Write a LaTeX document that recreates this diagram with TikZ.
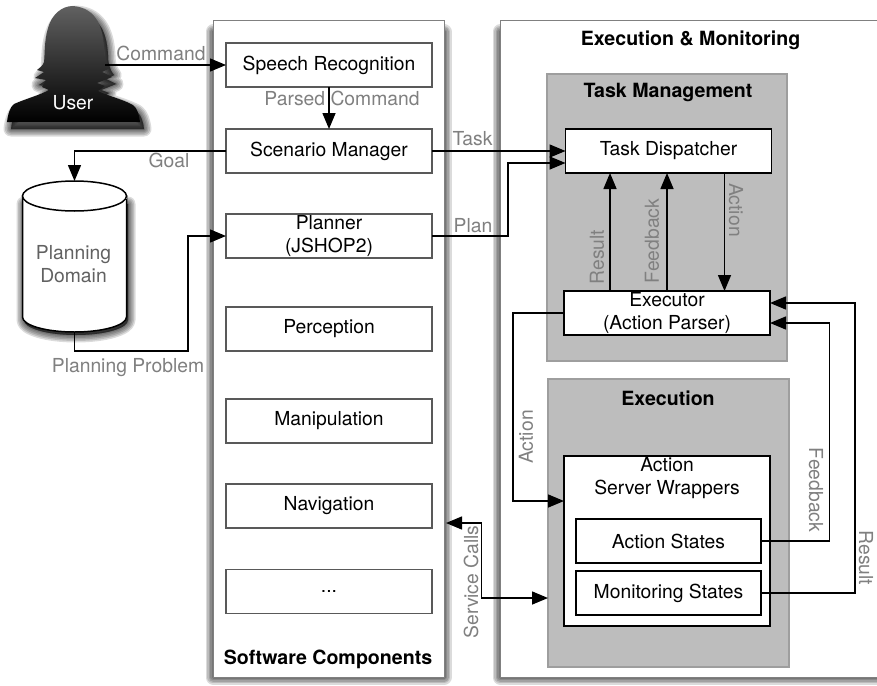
\documentclass[tikz,border=0pt]{standalone}
\usepackage{fontspec}
\setmainfont{TeX Gyre Heros}
\usetikzlibrary{arrows.meta}
\newcommand{\softshadow}[1]{%
  \foreach \w in {15,12,9,6,3,0.5}{%
    \fill[black,fill opacity=.14,draw=black,draw opacity=.14,line width=\w pt,line join=round] #1;}}
\tikzset{
  every node/.style={inner sep=0pt,outer sep=0pt,align=center,font=\fontsize{19.3}{23}\selectfont},
  panel/.style={draw=black!50,line width=1pt,fill=white},
  graypanel/.style={draw=black!38,line width=1.2pt,fill=black!26},
  swbox/.style={draw=black!65,line width=1.5pt,fill=white,minimum width=206pt,minimum height=44pt},
  exbox/.style={draw=black,line width=1.5pt,fill=white,minimum width=206pt,minimum height=44pt},
  statebox/.style={draw=black,line width=1.5pt,fill=white,minimum width=185pt,minimum height=44pt},
  title/.style={font=\fontsize{19.6}{23}\selectfont\bfseries},
  lab/.style={text=black!50},
  conn/.style={draw=black,line width=1.5pt,-{Triangle[length=16pt,width=13pt]}},
}
\begin{document}
\begin{tikzpicture}[x=1pt,y=-1pt]
\clip (0,0) rectangle (877,685);
\fill[white] (0,0) rectangle (877,685);

% soft shadows
\softshadow{(213,32) rectangle (444,677)}
\softshadow{(500,32) rectangle (890,677)}
\def\userpath{(73,6) .. controls (62,6) and (52,14) .. (48,28) .. controls (44,42) and (45,55) .. (44,62)
  .. controls (43,66) and (38,69) .. (37,70) -- (44,72) -- (35,78) -- (46,80) -- (42,87) -- (49,90)
  .. controls (40,95) and (25,99) .. (14,104) .. controls (10,107) and (8,114) .. (7,122) -- (140,122)
  .. controls (139,114) and (137,108) .. (133,105) .. controls (122,99) and (108,96) .. (98,91)
  -- (105,86) -- (97,83) -- (112,77) -- (102,72) -- (110,68)
  .. controls (105,62) and (104,55) .. (104,48) .. controls (103,30) and (98,8) .. (73,6) -- cycle}
\begin{scope}[xshift=4pt,yshift=-7pt]
  \softshadow{\userpath}
\end{scope}
\softshadow{(24,204) -- (24,320) arc[start angle=180,end angle=360,x radius=52,y radius=-15] -- (128,204) -- cycle}

% user silhouette
\shade[top color=black!62,bottom color=black] \userpath;
\node[text=white] (user) at (73,103) {User};

% panels
\node[panel,minimum width=231pt,minimum height=656pt] (sw) at (328.5,349) {};
\node[panel,minimum width=385pt,minimum height=656pt] (em) at (692.5,349) {};
\node[graypanel,minimum width=240pt,minimum height=287pt] (tm) at (667,217.5) {};
\node[graypanel,minimum width=241pt,minimum height=288pt] (ex) at (668.5,523) {};

% titles
\node[title] (swt) at (328,659) {Software Components};
\node[title] (emt) at (690.5,40) {Execution \& Monitoring};
\node[title] (tmt) at (668,92) {Task Management};
\node[title] (ext) at (668,398) {Execution};

% software boxes
\node[swbox] (speech) at (329,65) {Speech Recognition};
\node[swbox] (scen) at (329,151) {Scenario Manager};
\node[swbox] (plan) at (329,236) {Planner\\(JSHOP2)};
\node[swbox] (perc) at (329,329) {Perception};
\node[swbox] (mani) at (329,421) {Manipulation};
\node[swbox] (navi) at (329,506) {Navigation};
\node[swbox] (dots) at (329,591.5) {...};

% planning domain
\node[minimum width=104pt,minimum height=151pt] (db) at (74.5,256.5) {};
\draw[fill=white,draw=black,line width=1.5pt]
  (22.5,196) -- (22.5,317) arc[start angle=180,end angle=360,x radius=52,y radius=-15] -- (126.5,196) -- cycle;
\fill[white] (22.5,196) -- (126.5,196) -- (126.5,199) -- (22.5,199) -- cycle;
\draw[fill=white,line width=1.5pt] (74.5,196) ellipse[x radius=52,y radius=15];
\node[text=black!62] (dbt) at (73.5,264) {Planning\\Domain};

% execution side boxes
\node[exbox] (disp) at (668.5,151) {Task Dispatcher};
\node[exbox] (exec) at (667,313) {Executor\\(Action Parser)};
\node[draw=black,line width=1.5pt,fill=white,minimum width=206pt,minimum height=170pt] (wrap) at (667,541) {};
\node (wrapt) at (667,478) {Action\\Server Wrappers};
\node[statebox] (astate) at (668.5,541) {Action States};
\node[statebox] (mstate) at (668.5,593) {Monitoring States};

% free ends
\coordinate (usr) at (105,65);
\coordinate (svcL) at (446,523);
\coordinate (svcR) at (548,598);

% connectors
\draw[conn] (usr) -- (speech.west);
\draw[conn] (speech.south) -- (scen.north);
\draw[conn] (scen.west) -| (db.north);
\draw[conn] (db.south) |- (188,351) |- (plan.west);
\draw[conn] (scen.east) -- (disp.west);
\draw[conn] (plan.east) -- (508,236) |- ([yshift=-12pt]disp.west);
\draw[conn] ([xshift=-57pt]exec.north) -- ([xshift=-57pt]exec.north |- disp.south);
\draw[conn] (exec.north) -- (exec.north |- disp.south);
\draw[conn] ([xshift=56pt]disp.south) -- ([xshift=56pt]disp.south |- exec.north);
\draw[conn] (exec.west) -- (513,313) |- (wrap.west |- 0,501);
\draw[conn] (astate.east) -- (829.5,541) |- ([yshift=-10pt]exec.east);
\draw[conn] (mstate.east) -- (855,593) |- ([yshift=10pt]exec.east);
\draw[conn,{Triangle[length=16pt,width=13pt]}-{Triangle[length=16pt,width=13pt]}] (svcL) -- (481.5,523) |- (svcR);

% connector labels
\node[lab] (lcmd) at (161,53) {Command};
\node[lab] (lparsed) at (342,98) {Parsed Command};
\node[lab] (lgoal) at (169,160) {Goal};
\node[lab] (lprob) at (128,368) {Planning Problem};
\node[lab] (ltask) at (472.5,139) {Task};
\node[lab] (lplan) at (473,226) {Plan};
\node[lab,rotate=90] (lres) at (597,257) {Result};
\node[lab,rotate=90] (lfb) at (652,241) {Feedback};
\node[lab,rotate=-90] (lact) at (736,210) {Action};
\node[lab,rotate=90] (lact2) at (526,437) {Action};
\node[lab,rotate=-90] (lfb2) at (816,490) {Feedback};
\node[lab,rotate=-90] (lres2) at (866,558) {Result};
\node[lab,rotate=90] (lsvc) at (471,582) {Service Calls};
\end{tikzpicture}
\end{document}
